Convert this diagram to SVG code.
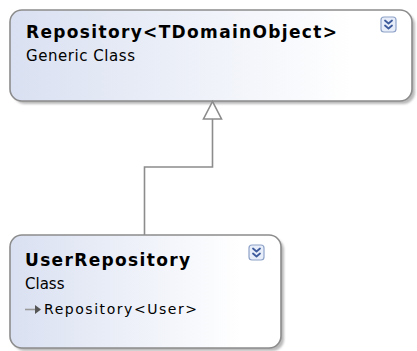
<svg xmlns="http://www.w3.org/2000/svg" width="417" height="351" viewBox="0 0 417 351">
  <defs>
    <linearGradient id="shapeFill" x1="0" y1="0" x2="1" y2="0">
      <stop offset="0" stop-color="#d9e0f1"/>
      <stop offset="0.85" stop-color="#ffffff"/>
      <stop offset="1" stop-color="#ffffff"/>
    </linearGradient>
    <filter id="soft" x="-10%" y="-10%" width="120%" height="130%">
      <feGaussianBlur stdDeviation="1.2"/>
    </filter>
  </defs>
  <style>
    .shadow { fill: #b9b9b9; filter: url(#soft); }
    .box { fill: url(#shapeFill); stroke: #8c8c8c; stroke-width: 1.6; }
    .title { font-family: "DejaVu Sans", Verdana, sans-serif; font-weight: bold; font-size: 17px; fill: #000000; }
    .kind { font-family: "DejaVu Sans", Verdana, sans-serif; font-size: 15px; fill: #000000; }
    .member { font-family: "DejaVu Sans", Verdana, sans-serif; font-size: 14px; fill: #000000; }
    .btn { fill: #e8eef9; stroke: #8ea2c8; stroke-width: 1.2; }
    .chev { fill: none; stroke: #3d5a9c; stroke-width: 1.8; stroke-linecap: round; stroke-linejoin: round; }
    .link { fill: none; stroke: #8c8c8c; stroke-width: 1.6; }
    .head { fill: #ffffff; stroke: #8c8c8c; stroke-width: 1.6; stroke-linejoin: miter; }
  </style>

  <g id="repository">
    <rect class="shadow" x="13" y="13" width="402" height="91" rx="12"/>
    <rect class="box" x="10" y="10" width="402" height="91" rx="12"/>
    <text class="title" x="26" y="38" textLength="311" lengthAdjust="spacing">Repository&lt;TDomainObject&gt;</text>
    <text class="kind" x="26" y="61" textLength="109" lengthAdjust="spacing">Generic Class</text>
    <rect class="btn" x="381" y="17" width="15" height="15" rx="3"/>
    <path class="chev" d="M385,20.5 L388.5,23.5 L392,20.5 M385,25.5 L388.5,28.5 L392,25.5"/>
  </g>

  <g id="userRepository">
    <rect class="shadow" x="13" y="238" width="271" height="113" rx="12"/>
    <rect class="box" x="10" y="235" width="271" height="113" rx="12"/>
    <text class="title" x="25" y="266" textLength="165" lengthAdjust="spacing">UserRepository</text>
    <text class="kind" x="25" y="289">Class</text>
    <!-- base type icon -->
    <path d="M25,309.5 L36,309.5" stroke="#9a9a9a" stroke-width="1.6" fill="none"/>
    <path d="M35,305 L41,309.5 L35,314 Z" fill="#555555"/>
    <text class="member" x="44" y="314" textLength="153" lengthAdjust="spacing">Repository&lt;User&gt;</text>
    <rect class="btn" x="249" y="245" width="15" height="15" rx="3"/>
    <path class="chev" d="M253,248.5 L256.5,251.5 L260,248.5 M253,253.5 L256.5,256.5 L260,253.5"/>
  </g>

  <!-- generalization: UserRepository inherits Repository<TDomainObject> -->
  <g id="connectors">
    <path class="link" d="M144.5,235 L144.5,167 L212.5,167 L212.5,119"/>
    <polygon class="head" points="212.5,101.5 203.5,119 221.5,119"/>
  </g>
</svg>
